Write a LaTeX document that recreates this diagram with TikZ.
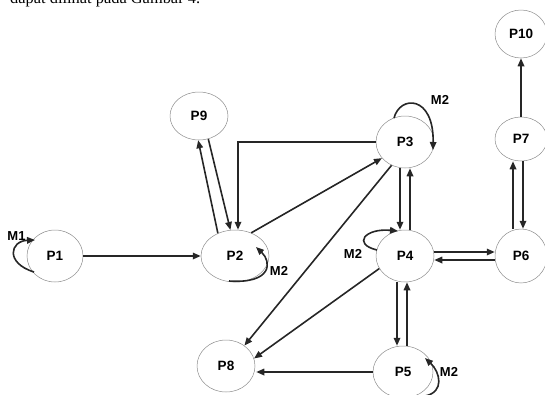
\documentclass[tikz,border=0pt]{standalone}
\usepackage{fontspec}
\setmainfont{Liberation Serif}
\newfontfamily\labelfont{Liberation Sans}
\usetikzlibrary{arrows.meta,shapes.geometric,calc}

\tikzset{
  state/.style={ellipse, draw=black!45, line width=0.5pt, inner sep=0pt,
                font=\labelfont\bfseries\fontsize{13.5}{13.5}\selectfont},
  arr/.style={draw=black!85, line width=1.6pt,
              -{Triangle[length=8pt,width=6.5pt]}},
  looplabel/.style={font=\labelfont\bfseries\fontsize{13}{13}\selectfont, inner sep=0pt}
}

\begin{document}
\begin{tikzpicture}[x=1pt,y=1pt]
\useasboundingbox (0,0) rectangle (545,-394);
\clip (0,0) rectangle (545,-394);

% line of running text above the figure
\node[anchor=base west, inner sep=0pt, font=\fontsize{16.4}{18}\selectfont] (caption) at (10,-3.4) {dapat dilihat pada Gambar 4.};

% states
\node[state, minimum width=56pt, minimum height=52pt] (P1)  at (55,-256)  {P1};
\node[state, minimum width=68pt, minimum height=52pt] (P2)  at (235,-256) {P2};
\node[state, minimum width=58pt, minimum height=48pt] (P9)  at (199,-116) {P9};
\node[state, minimum width=58pt, minimum height=52pt] (P3)  at (405,-142) {P3};
\node[state, minimum width=58pt, minimum height=52pt] (P4)  at (405,-256) {P4};
\node[state, minimum width=60pt, minimum height=52pt] (P5)  at (403,-372) {P5};
\node[state, minimum width=58pt, minimum height=52pt] (P8)  at (226,-366) {P8};
\node[state, minimum width=52pt, minimum height=54pt] (P6)  at (521,-256) {P6};
\node[state, minimum width=52pt, minimum height=44pt] (P7)  at (521,-139) {P7};
\node[state, minimum width=52pt, minimum height=48pt] (P10) at (521,-34)  {P10};

% transitions
\draw[arr] (P1.east) -- (P2.west);
\draw[arr] (P2.127) -- (P9.-92);
\draw[arr] (P9.-68) -- (P2.100);
\draw[arr] (P3.west) -| ($(P2.north)+(3,0)$);
\draw[arr] (P2.55) -- (P3.215);
\draw[arr] (P3.-120) -- (P8.48);
\draw[arr] (P4.-154) -- (P8.15);
\draw[arr] ($(P5.west)$) -- ($(P5.west -| P8.east)+(1,0)$);
\draw[arr] ($(P3.south)+(-5,0)$) -- ($(P4.north)+(-5,0)$);
\draw[arr] ($(P4.north)+(5,0)$) -- ($(P3.south)+(5,0)$);
\draw[arr] ($(P4.south)+(-8,0)$) -- ($(P5.north)+(-6,0)$);
\draw[arr] ($(P5.north)+(4,0)$) -- ($(P4.south)+(2,0)$);
\draw[arr] ($(P4.east)+(0,4)$) -- ($(P6.west)+(0,4)$);
\draw[arr] ($(P6.west)+(0,-4)$) -- ($(P4.east)+(0,-4)$);
\draw[arr] ($(P6.north)+(-8,0)$) -- ($(P7.south)+(-8,0)$);
\draw[arr] ($(P7.south)+(2,0)$) -- ($(P6.north)+(2,0)$);
\draw[arr] (P7.north) -- (P10.south);

% self loops
\draw[arr] ($(P1)+(-21,-16)$) .. controls ($(P1)+(-50,-7)$) and ($(P1)+(-45,15)$) .. ($(P1)+(-20,16)$);
\node[looplabel] (m1) at (16.5,-236.5) {M1};

\draw[arr] ($(P2)+(-6,-25)$) .. controls ($(P2)+(37,-28)$) and ($(P2)+(37,-6)$) .. ($(P2)+(21,9)$);
\node[looplabel] (m2a) at (279,-271) {M2};

\draw[arr] ($(P3)+(-11,24)$) .. controls ($(P3)+(-5,47)$) and ($(P3)+(29,47)$) .. ($(P3)+(28,-8)$);
\node[looplabel] (m2b) at (440,-99.5) {M2};

\draw[arr] ($(P4)+(-28,6)$) .. controls ($(P4)+(-53,12)$) and ($(P4)+(-40,28)$) .. ($(P4)+(-7,25)$);
\node[looplabel] (m2c) at (353,-254) {M2};

\draw[arr] ($(P5)+(22,-24)$) .. controls ($(P5)+(42,-20)$) and ($(P5)+(37,0)$) .. ($(P5)+(22,14)$);
\node[looplabel] (m2d) at (449,-371.5) {M2};
\end{tikzpicture}
\end{document}
